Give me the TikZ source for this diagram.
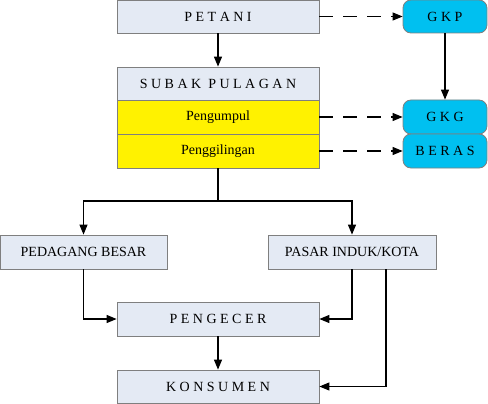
\documentclass[tikz,border=0pt]{standalone}
\usepackage{fontspec}
\setmainfont{LiberationSerif}[Extension=.ttf, UprightFont=*-Regular, BoldFont=*-Bold]
\usetikzlibrary{arrows.meta}
\definecolor{boxgray}{HTML}{E4EAF4}
\definecolor{boxline}{HTML}{7F7F7F}
\definecolor{skyfill}{HTML}{00C0F0}
\tikzset{
  box/.style={rectangle, draw=boxline, fill=boxgray, line width=0.8pt, minimum width=202pt, minimum height=33pt, inner sep=0pt, font=\fontsize{14}{16}\selectfont},
  yellowbox/.style={box, fill=yellow, minimum height=34pt},
  sidebox/.style={box, minimum width=167pt, minimum height=34pt},
  product/.style={rectangle, rounded corners=8pt, draw=boxline, fill=skyfill, line width=0.8pt, minimum width=84pt, minimum height=33pt, inner sep=0pt, font=\fontsize{14}{16}\selectfont},
  flow/.style={line width=1.1pt, -{Triangle[length=10pt,width=8pt]}},
  dashflow/.style={flow, dash pattern=on 14pt off 10pt}
}
\begin{document}
\begin{tikzpicture}[x=1pt, y=-1pt]
  \useasboundingbox (0,0) rectangle (488,404);

  % Main chain
  \node[box] (petani) at (218,16.5) {P E T A N I};
  \node[box] (subak) at (218,83.5) {S U B A K \ P U L A G A N};
  \node[yellowbox] (pengumpul) at (218,117) {Pengumpul};
  \node[yellowbox] (penggilingan) at (218,151) {Penggilingan};

  % Products
  \node[product] (gkp) at (445,16.5) {G K P};
  \node[product, minimum height=34pt] (gkg) at (445,117) {G K G};
  \node[product, minimum height=34pt] (beras) at (445,151) {B E R A S};

  % Traders
  \node[sidebox] (pedagang) at (83.5,252) {PEDAGANG BESAR};
  \node[sidebox, minimum width=168pt] (pasar) at (352,252) {PASAR INDUK/KOTA};
  \node[box, minimum height=34pt] (pengecer) at (218,319) {P E N G E C E R};
  \node[box] (konsumen) at (218,386.5) {K O N S U M E N};

  % Arrows
  \draw[flow] (petani) -- (subak);
  \draw[flow] (gkp) -- (gkg);
  \draw[dashflow] (petani) -- (gkp);
  \draw[dashflow] (pengumpul) -- (gkg);
  \draw[dashflow] (penggilingan) -- (beras);

  \coordinate (split) at (218,201);
  \draw[line width=1.1pt] (penggilingan) -- (split);
  \draw[flow] (split) -| (pedagang);
  \draw[flow] (split) -| (pasar);

  \draw[flow] (pedagang) |- (pengecer);
  \draw[flow] (pasar) |- (pengecer);
  \draw[flow] (pengecer) -- (konsumen);
  \draw[flow] ([xshift=34pt]pasar.south) |- (konsumen);
\end{tikzpicture}
\end{document}
